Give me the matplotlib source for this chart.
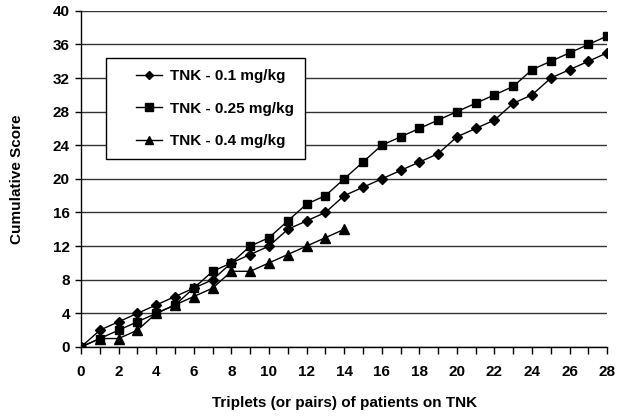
import matplotlib
matplotlib.use("Agg")
import matplotlib.pyplot as plt
from matplotlib.lines import Line2D
from matplotlib.legend_handler import HandlerLine2D

plt.rcParams["font.family"] = ["Liberation Sans", "DejaVu Sans"]
plt.rcParams["font.weight"] = "bold"

x_low = list(range(0, 29))
y_low = [0, 2, 3, 4, 5, 6, 7, 8, 10, 11, 12, 14, 15, 16, 18, 19, 20, 21, 22, 23,
         25, 26, 27, 29, 30, 32, 33, 34, 35]
x_mid = list(range(0, 29))
y_mid = [0, 1, 2, 3, 4, 5, 7, 9, 10, 12, 13, 15, 17, 18, 20, 22, 24, 25, 26, 27,
         28, 29, 30, 31, 33, 34, 35, 36, 37]
x_high = list(range(0, 15))
y_high = [0, 1, 1, 2, 4, 5, 6, 7, 9, 9, 10, 11, 12, 13, 14]

labels = ["TNK - 0.1 mg/kg", "TNK - 0.25 mg/kg", "TNK - 0.4 mg/kg"]
x_ticks = list(range(0, 29, 2))
y_ticks = list(range(0, 41, 4))

fig = plt.figure(figsize=(6.19, 4.16), dpi=100)
ax = fig.add_axes([0.131, 0.166, 0.850, 0.808])

ax.plot(x_low, y_low, color="black", lw=1, marker="D", ms=5, label=labels[0], zorder=3)
ax.plot(x_mid, y_mid, color="black", lw=1, marker="s", ms=6.3, label=labels[1], zorder=3)
ax.plot(x_high, y_high, color="black", lw=1, marker="^", ms=6.8, label=labels[2], zorder=3)

ax.set_xlim(0, 28)
ax.set_ylim(0, 40)
ax.set_xticks(x_ticks)
ax.set_xticks(range(0, 29), minor=True)
ax.set_yticks(y_ticks)
ax.tick_params(axis="x", which="both", direction="out", length=5, width=1, labelsize=11, pad=8)
ax.tick_params(axis="y", direction="out", length=4, width=1, labelsize=11, pad=4)
ax.yaxis.grid(True, color="#333333", lw=1)
ax.set_axisbelow(True)
for s in ["top", "right"]:
    ax.spines[s].set_visible(False)
for s in ["left", "bottom"]:
    ax.spines[s].set_linewidth(1)
ax.spines["left"].set_zorder(4)
ax.spines["bottom"].set_zorder(4)
for lab in ax.get_xticklabels() + ax.get_yticklabels():
    lab.set_fontweight("bold")

ax.set_xlabel("Triplets (or pairs) of patients on TNK", fontsize=11, fontweight="bold", labelpad=12)
ax.set_ylabel("Cumulative Score", fontsize=11, fontweight="bold", labelpad=21)

# push the handles right inside the box, like the original
leg = ax.legend(loc="upper left", bbox_to_anchor=(0.0475, 0.86), fontsize=11,
                frameon=True, fancybox=False, framealpha=1, edgecolor="black",
                handlelength=2.95, markerscale=0.85, labelspacing=1.22,
                borderpad=0.72, handletextpad=0.5, borderaxespad=0,
                handler_map={Line2D: HandlerLine2D(xpad=1.25)})
leg.get_frame().set_linewidth(1)
for t in leg.get_texts():
    t.set_fontweight("bold")

fig.savefig("out.png", dpi=100)
